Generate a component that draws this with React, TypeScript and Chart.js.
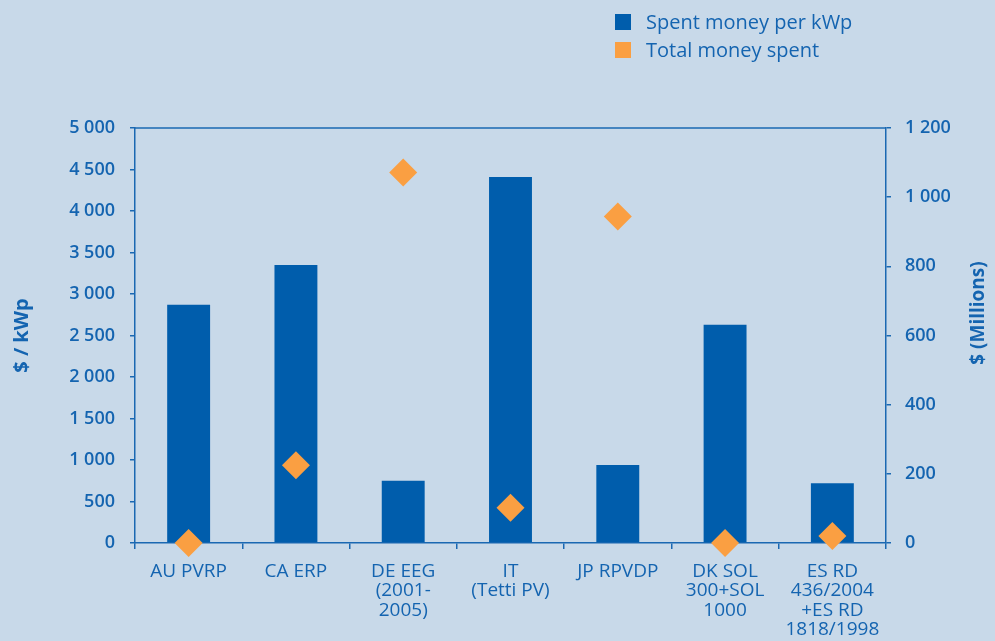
import React, { useEffect, useRef } from "react";
import { Chart, registerables } from "chart.js";

Chart.register(...registerables);

const categories: (string | string[])[] = [
  "AU PVRP",
  "CA ERP",
  ["DE EEG", "(2001-", "2005)"],
  ["IT", "(Tetti PV)"],
  "JP RPVDP",
  ["DK SOL", "300+SOL", "1000"],
  ["ES RD", "436/2004", "+ES RD", "1818/1998"],
];

const perKwp = [2870, 3350, 750, 4410, 940, 2630, 720];
const totalSpent = [0, 225, 1071, 102, 944, 0, 20];

const seriesLabels = ["Spent money per kWp", "Total money spent"];
const leftTitle = "$ / kWp";
const rightTitle = "$ (Millions)";

const BG = "#c8d9e9";
const BAR = "#005dac";
const ORANGE = "#fa9f42";
const TEXT = "#1464b0";
const AXIS = "#1a68b2";

const fmt = (v: number) => {
  const s = String(Math.round(v));
  return s.replace(/\B(?=(\d{3})+(?!\d))/g, " ");
};

export default function App() {
  const ref = useRef<HTMLCanvasElement | null>(null);

  useEffect(() => {
    document.body.style.margin = "0";
    document.body.style.background = BG;
    const canvas = ref.current;
    if (!canvas) return;

    const framePlugin = {
      id: "frame",
      afterDatasetsDraw(chart: any) {
        const { ctx, chartArea } = chart;
        ctx.save();
        ctx.strokeStyle = AXIS;
        ctx.lineWidth = 1.5;
        ctx.beginPath();
        ctx.moveTo(chartArea.left, chartArea.top);
        ctx.lineTo(chartArea.right, chartArea.top);
        ctx.stroke();
        ctx.restore();
      },
      afterDraw(chart: any) {
        const { ctx } = chart;
        ctx.save();
        ctx.translate(979, 313);
        ctx.rotate(-Math.PI / 2);
        ctx.fillStyle = TEXT;
        ctx.font = "bold 19px 'Open Sans', sans-serif";
        ctx.textAlign = "center";
        ctx.textBaseline = "middle";
        ctx.fillText(rightTitle, 0, 0);
        ctx.restore();
      },
    };

    const tickFont = { family: "'Open Sans', sans-serif", size: 18, weight: "600" as any };

    const chart = new Chart(canvas, {
      type: "bar",
      data: {
        labels: categories as any,
        datasets: [
          {
            type: "line" as const,
            label: seriesLabels[1],
            data: totalSpent,
            yAxisID: "y1",
            showLine: false,
            pointStyle: "rectRot",
            pointRadius: 14,
            pointHoverRadius: 14,
            pointBackgroundColor: ORANGE,
            pointBorderColor: ORANGE,
            pointBorderWidth: 0,
            backgroundColor: ORANGE,
            borderColor: ORANGE,
            clip: false as any,
            order: 0,
          },
          {
            type: "bar" as const,
            label: seriesLabels[0],
            data: perKwp,
            yAxisID: "y",
            backgroundColor: BAR,
            borderWidth: 0,
            barPercentage: 0.4,
            categoryPercentage: 1,
            order: 1,
          },
        ],
      },
      options: {
        animation: false,
        responsive: false,
        maintainAspectRatio: false,
        layout: { padding: { top: 128, left: 0, right: 0, bottom: 0 } },
        plugins: {
          legend: { display: false },
          tooltip: { enabled: false },
        },
        scales: {
          x: {
            grid: {
              display: true,
              drawOnChartArea: false,
              drawTicks: true,
              tickLength: 6,
              color: AXIS,
              lineWidth: 1.5,
              offset: true,
            },
            border: { display: true, color: AXIS, width: 1.5 },
            ticks: {
              color: TEXT,
              padding: 13,
              maxRotation: 0,
              autoSkip: false,
              font: {
                family: "'Open Sans', sans-serif",
                size: 19,
                weight: "500" as any,
                lineHeight: 1.02,
              },
            },
            afterFit(scale: any) {
              scale.height = 98;
            },
          },
          y: {
            position: "left",
            min: 0,
            max: 5000,
            grid: {
              display: true,
              drawOnChartArea: false,
              drawTicks: true,
              tickLength: 5,
              color: AXIS,
              lineWidth: 1.5,
            },
            border: { display: true, color: AXIS, width: 1.5 },
            ticks: {
              stepSize: 500,
              color: TEXT,
              padding: 15,
              font: tickFont,
              callback: (v: any) => fmt(Number(v)),
            },
            title: {
              display: true,
              text: leftTitle,
              color: TEXT,
              font: { family: "'Open Sans', sans-serif", size: 20, weight: "bold" as any, lineHeight: 1.2 },
              padding: { top: 10, bottom: 0 },
            },
            afterFit(scale: any) {
              scale.width = 135;
            },
          },
          y1: {
            position: "right",
            min: 0,
            max: 1200,
            grid: {
              display: true,
              drawOnChartArea: false,
              drawTicks: true,
              tickLength: 5,
              color: AXIS,
              lineWidth: 1.5,
            },
            border: { display: true, color: AXIS, width: 1.5 },
            ticks: {
              stepSize: 200,
              color: TEXT,
              padding: 14,
              font: tickFont,
              callback: (v: any) => fmt(Number(v)),
            },
            afterFit(scale: any) {
              scale.width = 109;
            },
          },
        },
      },
      plugins: [framePlugin],
    });

    return () => chart.destroy();
  }, []);

  const legendItems = [
    { label: seriesLabels[0], color: BAR, top: 15 },
    { label: seriesLabels[1], color: ORANGE, top: 43 },
  ];

  return (
    <div style={{ position: "relative", width: 995, height: 641, background: BG, overflow: "hidden" }}>
      <canvas ref={ref} width={995} height={641} style={{ display: "block", width: 995, height: 641 }} />
      {legendItems.map((it) => (
        <div key={it.label} style={{ position: "absolute", left: 615, top: it.top - 1, height: 16, display: "flex", alignItems: "center" }}>
          <span style={{ display: "inline-block", width: 16, height: 16, background: it.color }} />
          <span
            style={{
              marginLeft: 15,
              fontFamily: "'Open Sans', sans-serif",
              fontSize: 20,
              color: TEXT,
              lineHeight: "16px",
              whiteSpace: "nowrap",
            }}
          >
            {it.label}
          </span>
        </div>
      ))}
    </div>
  );
}
